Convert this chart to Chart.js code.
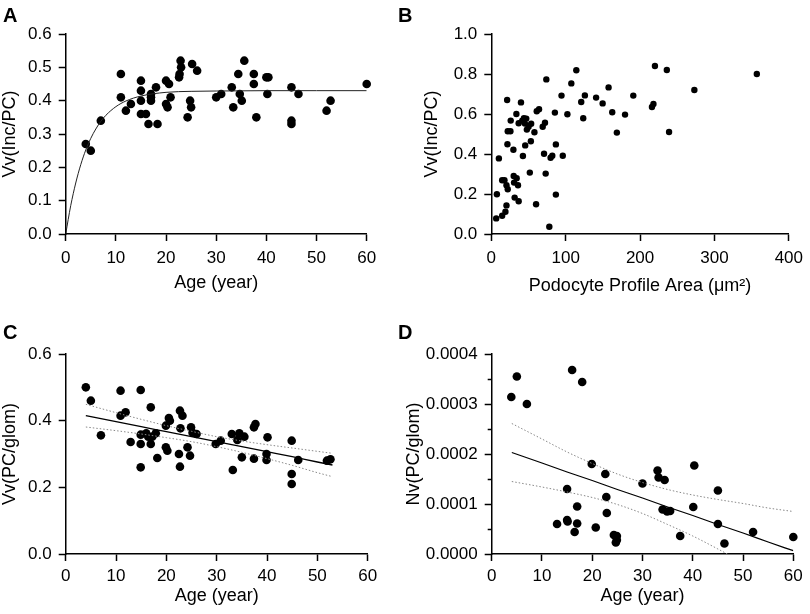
<!DOCTYPE html>
<html>
<head>
<meta charset="utf-8">
<script src="https://cdn.jsdelivr.net/npm/chart.js@4/dist/chart.umd.min.js"></script>
<style>
  body { margin: 0; background: #fff; width: 810px; height: 614px; position: relative; overflow: hidden;
         font-family: "Liberation Sans", Arial, sans-serif; }
  .panel { position: absolute; }
  .letter { position: absolute; font-weight: bold; font-size: 20px; line-height: 20px; color: #000; }
</style>
</head>
<body>
<div class="panel" style="left:0;top:0;width:405px;height:300px"><canvas id="chartA"></canvas></div>
<div class="panel" style="left:405px;top:0;width:405px;height:300px"><canvas id="chartB"></canvas></div>
<div class="panel" style="left:0;top:300px;width:405px;height:314px"><canvas id="chartC"></canvas></div>
<div class="panel" style="left:405px;top:300px;width:405px;height:314px"><canvas id="chartD"></canvas></div>
<div class="letter" style="left:3px;top:5px">A</div>
<div class="letter" style="left:398px;top:5px">B</div>
<div class="letter" style="left:3px;top:322px">C</div>
<div class="letter" style="left:398px;top:322px">D</div>
<script>
const FONT = 'Liberation Sans';

// ---- Panel A: Vv(Inc/PC) vs age + saturating fit ----
const ageA = [4, 5, 7, 11, 11, 12, 13, 15, 15, 15, 15, 16, 16.5, 17, 17, 17, 18, 18.3, 20, 20, 20.3, 20.6, 20.9,
  22.6, 22.7, 22.9, 23, 24.3, 24.8, 25, 25.2, 26.2, 30, 31, 33.1, 33.4, 34.4, 34.7, 35.1, 35.6, 37.5, 37.5, 38,
  40, 40.4, 40.2, 45, 45, 45, 46.4, 52, 52.8, 60];
const vvIncA = [0.27, 0.25, 0.34, 0.48, 0.41, 0.37, 0.39, 0.46, 0.43, 0.40, 0.36, 0.36, 0.33, 0.42, 0.41, 0.40, 0.44, 0.33,
  0.46, 0.39, 0.38, 0.45, 0.41, 0.47, 0.48, 0.52, 0.50, 0.35, 0.40, 0.38, 0.51, 0.49, 0.41, 0.42, 0.44, 0.38, 0.48,
  0.42, 0.40, 0.52, 0.48, 0.45, 0.35, 0.47, 0.47, 0.42, 0.44, 0.34, 0.33, 0.42, 0.37, 0.40, 0.45];
// fitted curve
const fitAgeA = [0, 1, 2, 3, 4, 5, 6, 7, 8, 10, 12, 15, 20, 25, 30, 40, 50, 60];
const fitVvA = [0, 0.085, 0.153, 0.208, 0.252, 0.287, 0.315, 0.338, 0.356, 0.382, 0.399, 0.414, 0.425, 0.428, 0.429, 0.43, 0.43, 0.43];

// ---- Panel B: Vv(Inc/PC) vs podocyte profile area ----
const areaB = [6.6, 7.5, 10.2, 14.6, 14.6, 17.7, 19, 20.4, 20.4, 22.1, 21.3, 21.7, 22.1, 25.7, 26.1, 29.7, 30.1, 30.6,
  31.4, 33.7, 34.1, 35.9, 36.8, 36.8, 39.9, 41.6, 42.5, 43.9, 45.2, 45.6, 47, 47.8, 50.1, 51.8, 53.2, 53.6, 58, 60.2,
  61.1, 64.2, 69.1, 70.9, 72.2, 73.1, 74, 78, 79.7, 82, 85.5, 86.8, 86.8, 94.4, 96.1, 102.3, 107.6, 114.3, 120.9,
  123.6, 125.8, 140.9, 149.7, 157.7, 162.6, 168.8, 179.8, 190.9, 216, 220, 218, 236, 239, 273, 357];
const vvIncB = [0.078, 0.199, 0.378, 0.091, 0.269, 0.269, 0.111, 0.143, 0.244, 0.224, 0.67, 0.449, 0.514, 0.514, 0.567,
  0.421, 0.29, 0.257, 0.182, 0.60, 0.279, 0.244, 0.554, 0.164, 0.658, 0.567, 0.39, 0.579, 0.552, 0.443, 0.577, 0.522,
  0.536, 0.307, 0.464, 0.551, 0.509, 0.149, 0.614, 0.624, 0.536, 0.401, 0.556, 0.302, 0.773, 0.036, 0.381, 0.391,
  0.607, 0.448, 0.197, 0.692, 0.391, 0.599, 0.753, 0.819, 0.66, 0.579, 0.693, 0.682, 0.653, 0.733, 0.609, 0.507,
  0.597, 0.692, 0.635, 0.84, 0.65, 0.82, 0.51, 0.72, 0.80];

// ---- Panel C: Vv(PC/glom) vs age + regression with 95% band ----
const ageC = [4, 5, 7, 10.9, 10.9, 11.9, 12.9, 14.9, 14.9, 14.9, 14.9, 16, 16.4, 16.9, 16.9, 17.2, 17.9, 18.2, 19.9,
  19.9, 20.2, 20.5, 20.7, 22.7, 23.2, 22.8, 22.5, 22.7, 24.2, 24.7, 24.9, 25.2, 26, 29.8, 30.8, 33, 33.2, 34.1, 34.5,
  35, 35.5, 37.4, 37.7, 37.4, 40.1, 39.9, 39.9, 44.9, 44.9, 44.9, 46.2, 51.9, 52.6];
const vvPcC = [0.50, 0.46, 0.356, 0.49, 0.415, 0.425, 0.336, 0.492, 0.358, 0.33, 0.26, 0.362, 0.352, 0.44, 0.33, 0.352,
  0.362, 0.288, 0.385, 0.32, 0.31, 0.408, 0.40, 0.43, 0.415, 0.377, 0.30, 0.262, 0.32, 0.295, 0.38, 0.364, 0.36, 0.33,
  0.34, 0.36, 0.252, 0.342, 0.362, 0.29, 0.352, 0.38, 0.39, 0.286, 0.35, 0.30, 0.282, 0.34, 0.24, 0.21, 0.282, 0.28, 0.284];
const lineAgeC = [4, 10, 15, 20, 25, 30, 35, 40, 45, 50, 53];
const fitC = [0.415, 0.397, 0.382, 0.367, 0.352, 0.337, 0.322, 0.307, 0.292, 0.276, 0.267];
const upperC = [0.449, 0.424, 0.404, 0.385, 0.368, 0.352, 0.339, 0.328, 0.318, 0.308, 0.302];
const lowerC = [0.381, 0.370, 0.360, 0.349, 0.337, 0.322, 0.305, 0.286, 0.266, 0.244, 0.232];

// ---- Panel D: Nv(PC/glom) vs age + regression with 95% band ----
const ageD = [3.9, 5, 7, 13, 15, 15, 15.1, 16, 16.5, 17, 17, 18, 19.9, 20.7, 22.6, 22.8, 22.9, 24.3, 24.9, 24.9, 24.7,
  30, 33, 33.2, 34.4, 34, 34.9, 35.5, 37.5, 40.1, 40.3, 45, 45, 46.3, 52, 60];
const nvPcD = [3.14e-4, 3.55e-4, 3.0e-4, 0.6e-4, 1.30e-4, 0.68e-4, 0.65e-4, 3.68e-4, 0.44e-4, 0.95e-4, 0.61e-4, 3.44e-4,
  1.80e-4, 0.53e-4, 1.60e-4, 1.14e-4, 0.82e-4, 0.38e-4, 0.36e-4, 0.28e-4, 0.23e-4, 1.41e-4, 1.67e-4, 1.53e-4, 1.48e-4,
  0.89e-4, 0.85e-4, 0.86e-4, 0.36e-4, 0.94e-4, 1.77e-4, 1.27e-4, 0.60e-4, 0.21e-4, 0.44e-4, 0.34e-4];
const lineAgeD = [4, 10, 15, 20, 25, 30, 35, 40, 45, 50, 55, 60];
const fitD = [2.03e-4, 1.82e-4, 1.64e-4, 1.47e-4, 1.29e-4, 1.12e-4, 0.94e-4, 0.77e-4, 0.59e-4, 0.42e-4, 0.24e-4, 0.066e-4];
const upperD = [2.61e-4, 2.30e-4, 2.04e-4, 1.81e-4, 1.60e-4, 1.43e-4, 1.29e-4, 1.18e-4, 1.09e-4, 1.01e-4, 0.92e-4, 0.85e-4];
const lowerD = [1.45e-4, 1.34e-4, 1.24e-4, 1.13e-4, 0.99e-4, 0.81e-4, 0.59e-4, 0.36e-4, 0.10e-4, -0.17e-4, -0.44e-4, -0.71e-4];

// ---- tick values ----
const ageTicks = [0, 10, 20, 30, 40, 50, 60];
const areaTicks = [0, 100, 200, 300, 400];
const vvTicksA = [0, 0.1, 0.2, 0.3, 0.4, 0.5, 0.6];
const vvTicksB = [0, 0.2, 0.4, 0.6, 0.8, 1.0];
const vvTicksC = [0, 0.2, 0.4, 0.6];
const nvTicksD = [0, 0.0001, 0.0002, 0.0003, 0.0004];
const nvMinorTicksD = [0.00005, 0.00015, 0.00025, 0.00035];

const pairs = (xs, ys) => xs.map((x, i) => ({ x, y: ys[i] }));
const fixedTicks = vals => s => { s.ticks = vals.map(v => ({ value: v })); };

function axis(title, o) {
  return {
    type: 'linear',
    min: o.min, max: o.max,
    afterBuildTicks: fixedTicks(o.ticks),
    border: { color: '#000', width: 1.5 },
    grid: { drawOnChartArea: false, color: '#000', tickLength: 7, tickWidth: 1.5 },
    ticks: { color: '#000', font: { family: FONT, size: 17 }, padding: o.pad, callback: o.fmt, autoSkip: false },
    title: { display: true, text: title, color: '#000', font: { family: FONT, size: 18, lineHeight: 1 },
             padding: o.titlePad }
  };
}

function dots(xs, ys, r) {
  return { type: 'scatter', data: pairs(xs, ys), pointRadius: r, pointHoverRadius: r, pointBackgroundColor: '#000',
           pointBorderWidth: 0, showLine: false, clip: false };
}
function curve(xs, ys, color, width, dash) {
  return { type: 'line', data: pairs(xs, ys), borderColor: color, borderWidth: width, borderDash: dash || [],
           pointRadius: 0, fill: false, cubicInterpolationMode: 'monotone' };
}

// box = chart area inside the panel canvas
function makeChart(id, box, xAxis, yAxis, datasets) {
  xAxis.afterFit = s => { s.height = box.h - box.bottom; };
  yAxis.afterFit = s => { s.width = box.left; };
  new Chart(document.getElementById(id), {
    type: 'scatter',
    data: { datasets },
    options: {
      responsive: true, maintainAspectRatio: false, animation: false,
      layout: { padding: { left: 0, top: box.top, right: box.w - box.right, bottom: 0 } },
      plugins: { legend: { display: false }, tooltip: { enabled: false } },
      scales: { x: xAxis, y: yAxis }
    }
  });
}

const f1 = v => v.toFixed(1);

makeChart('chartA', { w: 405, h: 300, left: 65.7, right: 366.7, top: 34, bottom: 234 },
  axis('Age (year)', { min: 0, max: 60, ticks: ageTicks, pad: 7, titlePad: { top: 0, bottom: 8 } }),
  axis('Vv(Inc/PC)', { min: 0, max: 0.6, ticks: vvTicksA, pad: 7, fmt: f1, titlePad: { top: 1, bottom: 0 } }),
  [curve(fitAgeA, fitVvA, '#222', 1), dots(ageA, vvIncA, 4.3)]);

makeChart('chartB', { w: 405, h: 300, left: 86.3, right: 388.3, top: 34, bottom: 234 },
  axis('Podocyte Profile Area (\u03bcm\u00b2)', { min: 0, max: 400, ticks: areaTicks, pad: 7, titlePad: { top: 0, bottom: 5 } }),
  axis('Vv(Inc/PC)', { min: 0, max: 1, ticks: vvTicksB, pad: 7, fmt: f1, titlePad: { top: 18, bottom: 0 } }),
  [dots(areaB, vvIncB, 3.2)]);

makeChart('chartC', { w: 405, h: 314, left: 65.7, right: 367.7, top: 54, bottom: 254 },
  axis('Age (year)', { min: 0, max: 60, ticks: ageTicks, pad: 5, titlePad: { top: 0, bottom: 9 } }),
  axis('Vv(PC/glom)', { min: 0, max: 0.6, ticks: vvTicksC, pad: 7, fmt: f1, titlePad: { top: 1, bottom: 0 } }),
  [curve(lineAgeC, upperC, '#888', 1, [1.5, 2]), curve(lineAgeC, lowerC, '#888', 1, [1.5, 2]),
   curve(lineAgeC, fitC, '#000', 1.3), dots(ageC, vvPcC, 4.3)]);

// D: major + minor ticks on one axis; minor ticks are unlabelled and drawn shorter with a dash pattern
const isMajorD = v => nvTicksD.includes(v);
const yD = axis('Nv(PC/glom)', { min: 0, max: 0.0004, ticks: nvTicksD.concat(nvMinorTicksD).sort((a, b) => a - b),
  pad: 7, fmt: v => (isMajorD(v) ? v.toFixed(4) : ''), titlePad: { top: 0, bottom: 0 } });
yD.grid.tickBorderDash = ctx => (ctx.tick && !isMajorD(ctx.tick.value) ? [0, 3, 4, 20] : []);
makeChart('chartD', { w: 405, h: 314, left: 86.7, right: 388.3, top: 54, bottom: 254 },
  axis('Age (year)', { min: 0, max: 60, ticks: ageTicks, pad: 5, titlePad: { top: 0, bottom: 9 } }),
  yD,
  [curve(lineAgeD, upperD, '#888', 1, [1.5, 2]), curve(lineAgeD, lowerD, '#888', 1, [1.5, 2]),
   curve(lineAgeD, fitD, '#000', 1.3), dots(ageD, nvPcD, 4.3)]);
</script>
</body>
</html>
